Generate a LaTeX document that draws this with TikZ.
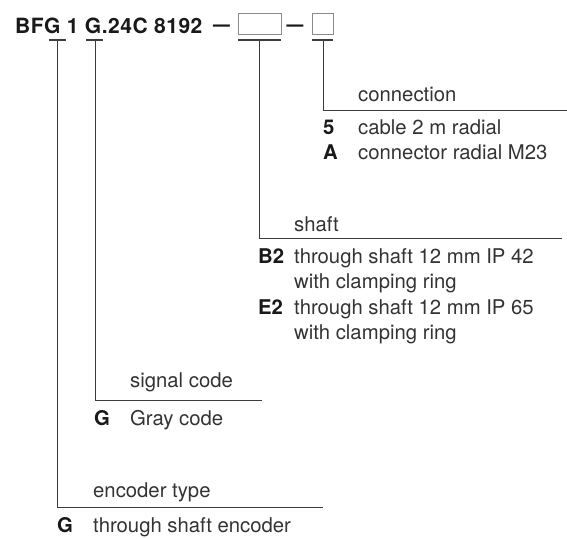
\documentclass[tikz,border=0pt]{standalone}
\usepackage{fontspec}
\setmainfont{TeX Gyre Heros}
\definecolor{txt}{HTML}{333333}
\definecolor{ink}{HTML}{3C3C3C}
\definecolor{boxc}{HTML}{8A8A8A}
\begin{document}
\begin{tikzpicture}[x=1pt,y=-1pt,
  lbl/.style={anchor=base west, inner sep=0, font=\fontsize{20.3}{24}\selectfont, text=txt},
  keylbl/.style={anchor=base west, inner sep=0, font=\fontsize{20.3}{24}\selectfont\bfseries, text=black!90},
  titlelbl/.style={anchor=base west, inner sep=0, font=\fontsize{21}{26}\selectfont\bfseries\addfontfeatures{LetterSpace=2.5}, text=black!90},
  uline/.style={line width=2pt, draw=ink},
  lead/.style={line width=1pt, draw=ink},
  slot/.style={draw=boxc, line width=1pt, inner sep=0, minimum height=21pt}]
\useasboundingbox (0,0) rectangle (567,538);

% title line
\node[titlelbl] (title) at (15,33) {BFG 1 G.24C 8192};
\node[titlelbl] (dashA) at (213,31.5) {\scalebox{0.8}[1]{—}};
\node[slot, minimum width=43pt] (boxA) at (259.5,23.5) {};
\node[titlelbl] (dashB) at (286.5,31.5) {\scalebox{0.8}[1]{—}};
\node[slot, minimum width=21pt] (boxB) at (322.5,23.5) {};

% underline coordinates
\coordinate (u1a) at (49,40);  \coordinate (u1b) at (66,40);
\coordinate (u2a) at (86,40);  \coordinate (u2b) at (103,40);
\coordinate (u3a) at (238,40); \coordinate (u3b) at (281,40);
\coordinate (u4a) at (312,40); \coordinate (u4b) at (333,40);
\draw[uline] (u1a) -- (u1b);
\draw[uline] (u2a) -- (u2b);
\draw[uline] (u3a) -- (u3b);
\draw[uline] (u4a) -- (u4b);

% lead coordinates
\coordinate (e0) at (57,40);  \coordinate (e1) at (57,507);  \coordinate (e2) at (323,507);
\coordinate (s0) at (95,40);  \coordinate (s1) at (95,400);  \coordinate (s2) at (262,400);
\coordinate (h0) at (259,40); \coordinate (h1) at (259,238); \coordinate (h2) at (562,238);
\coordinate (c0) at (323,40); \coordinate (c1) at (323,110); \coordinate (c2) at (567,110);
\draw[lead] (e0) -- (e1) -- (e2);
\draw[lead] (s0) -- (s1) -- (s2);
\draw[lead] (h0) -- (h1) -- (h2);
\draw[lead] (c0) -- (c1) -- (c2);

% connection
\node[lbl] (conn) at (358,101) {connection};
\node[keylbl] (k5) at (323,134) {5};
\node[lbl] (d5) at (358,134) {cable 2 m radial};
\node[keylbl] (kA) at (323,159) {A};
\node[lbl] (dA) at (358,159) {connector radial M23};

% shaft
\node[lbl] (shaft) at (294,231) {shaft};
\node[keylbl] (kB2) at (258,263) {B2};
\node[lbl] (dB2) at (294,263) {through shaft 12 mm IP 42};
\node[lbl] (dB2b) at (294,288) {with clamping ring};
\node[keylbl] (kE2) at (258,314) {E2};
\node[lbl] (dE2) at (294,314) {through shaft 12 mm IP 65};
\node[lbl] (dE2b) at (294,339) {with clamping ring};

% signal code
\node[lbl] (sig) at (130,387) {signal code};
\node[keylbl] (kG1) at (94,425) {G};
\node[lbl] (dG1) at (130,425) {Gray code};

% encoder type
\node[lbl] (enc) at (93,497) {encoder type};
\node[keylbl] (kG2) at (57,532) {G};
\node[lbl] (dG2) at (93,532) {through shaft encoder};
\end{tikzpicture}
\end{document}
